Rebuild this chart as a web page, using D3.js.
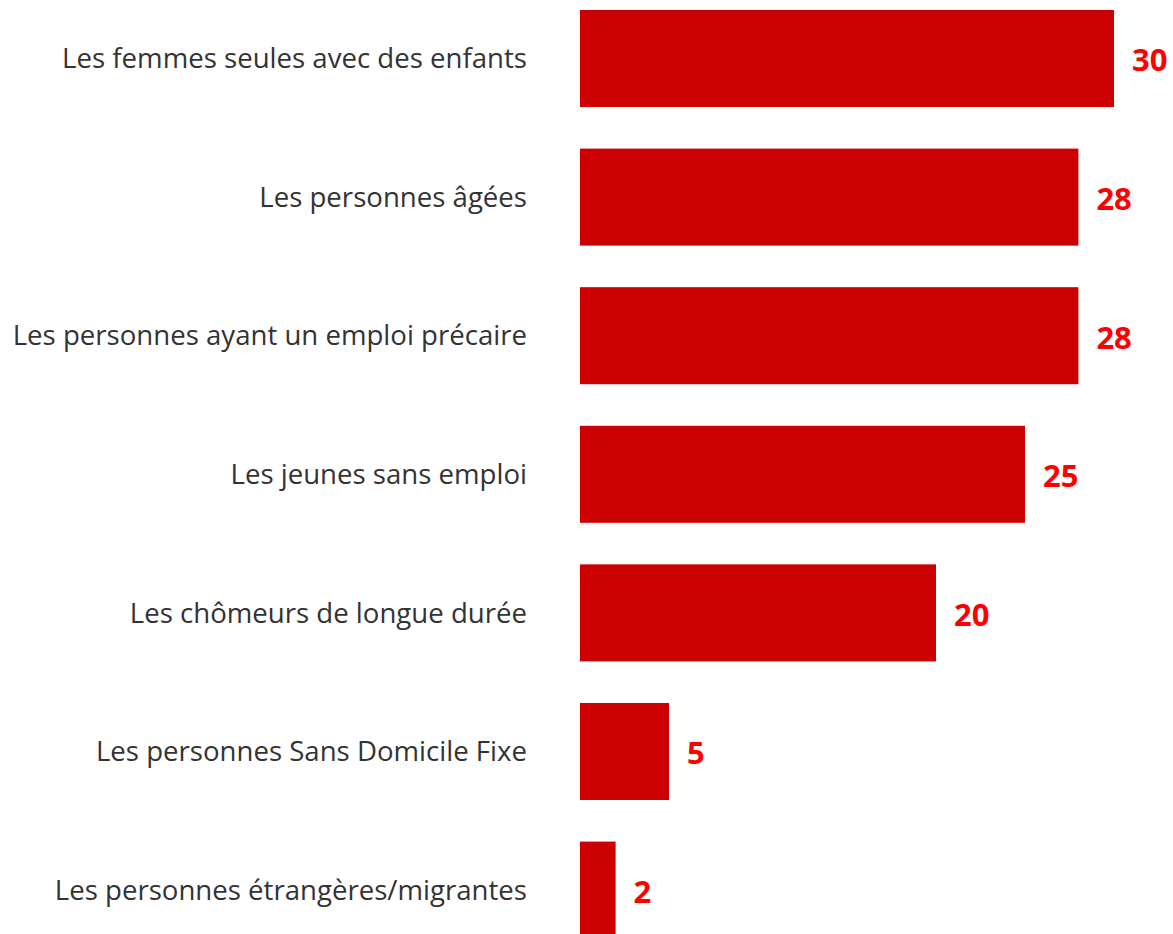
<!DOCTYPE html>
<html>
<head>
<meta charset="utf-8">
<script src="https://cdn.jsdelivr.net/npm/d3@7"></script>
<style>
  body { margin: 0; background: #fff; }
</style>
</head>
<body>
<script>
// categories, top to bottom
var categories = [
  "Les femmes seules avec des enfants",
  "Les personnes âgées",
  "Les personnes ayant un emploi précaire",
  "Les jeunes sans emploi",
  "Les chômeurs de longue durée",
  "Les personnes Sans Domicile Fixe",
  "Les personnes étrangères/migrantes"
];
var values = [30, 28, 28, 25, 20, 5, 2];

var w = 1173, h = 934;

var svg = d3.select("body")
    .append("svg")
    .attr("width", w)
    .attr("height", h)
    .attr("class", "container");

var x = d3.scaleLinear().domain([0, 30]).range([580, 1114]);
var y = d3.scaleBand().domain(categories).range([10, 938.6]).paddingInner(0.3).paddingOuter(0);

var data = categories.map(function(c, i){ return {cat: c, val: values[i]}; });

svg.selectAll("rect.bar")
    .data(data)
    .enter().append("rect")
    .attr("class", "bar")
    .attr("x", x(0))
    .attr("y", function(d){ return y(d.cat); })
    .attr("width", function(d){ return x(d.val) - x(0); })
    .attr("height", y.bandwidth())
    .style("fill", "#cc0000");

// category labels
svg.selectAll("text.cat")
    .data(data)
    .enter().append("text")
    .attr("class", "cat")
    .attr("x", 527)
    .attr("y", function(d){ return y(d.cat) + y.bandwidth() / 2; })
    .attr("dy", "0.35em")
    .attr("text-anchor", "end")
    .style("font-family", "'Open Sans', sans-serif")
    .style("font-size", "27.6px")
    .style("fill", "#333333")
    .text(function(d){ return d.cat; });

// value labels
svg.selectAll("text.val")
    .data(data)
    .enter().append("text")
    .attr("class", "val")
    .attr("x", function(d){ return x(d.val) + 18; })
    .attr("y", function(d){ return y(d.cat) + y.bandwidth() / 2 + 2; })
    .attr("dy", "0.35em")
    .style("font-family", "'Open Sans', sans-serif")
    .style("font-weight", "bold")
    .style("font-size", "31px")
    .style("fill", "#ff0000")
    .text(function(d){ return d.val; });
</script>
</body>
</html>
